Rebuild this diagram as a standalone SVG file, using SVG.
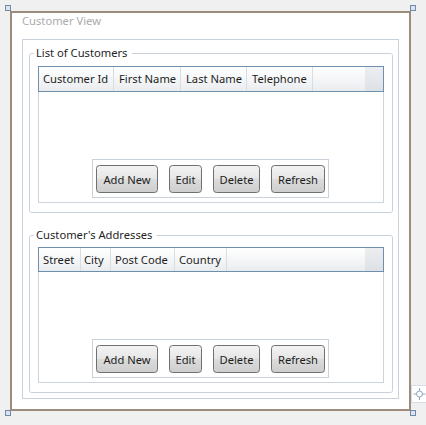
<svg xmlns="http://www.w3.org/2000/svg" width="426" height="425" viewBox="0 0 426 425">
<defs>
<linearGradient id="btn" x1="0" y1="0" x2="0" y2="1">
<stop offset="0" stop-color="#f3f3f3"/>
<stop offset="0.5" stop-color="#e6e6e6"/>
<stop offset="0.5" stop-color="#dcdcdc"/>
<stop offset="1" stop-color="#cdcdcd"/>
</linearGradient>
<linearGradient id="hdr" x1="0" y1="0" x2="0" y2="1">
<stop offset="0" stop-color="#ffffff"/>
<stop offset="0.45" stop-color="#f6f7f8"/>
<stop offset="1" stop-color="#e9ecef"/>
</linearGradient>
<linearGradient id="hdrfill" x1="0" y1="0" x2="0" y2="1">
<stop offset="0" stop-color="#eceef1"/>
<stop offset="1" stop-color="#dde1e5"/>
</linearGradient>
</defs>
<style>
text{font-family:"Noto Sans","Open Sans","DejaVu Sans",sans-serif;font-size:11.2px;fill:#1e1e1e}
.title{fill:#ababab}
.btn rect{fill:url(#btn);stroke:#707070;stroke-width:1}
.btn text{text-anchor:middle}
.pane{fill:none;stroke:#c9d2db;stroke-width:1}
.grid{fill:#ffffff;stroke:#ccd5de;stroke-width:1}
.sep{stroke:#d8dde2;stroke-width:1}
.handle{fill:#dbe4ee;stroke:#6e8aa8;stroke-width:1}
</style>
<rect x="0" y="0" width="426" height="425" fill="#f0f0f0"/>
<g id="window">
<rect x="11" y="12" width="399" height="398" fill="#ffffff" stroke="#9b8c7b" stroke-width="2"/>
<text class="title" x="22" y="25">Customer View</text>
<rect class="pane" x="22.5" y="39.5" width="376" height="359"/>
</g>
<g id="customersGroup">
<path class="pane" d="M33.5,53.5 H31.5 Q29.5,53.5 29.5,55.5 V210.5 Q29.5,212.5 31.5,212.5 H390.5 Q392.5,212.5 392.5,210.5 V55.5 Q392.5,53.5 390.5,53.5 H131.5"/>
<text x="36" y="57">List of Customers</text>
</g>
<g id="customersGrid">
<rect class="grid" x="38.5" y="66.5" width="345" height="136"/>
<rect x="365" y="67" width="18" height="24" fill="url(#hdrfill)"/>
<rect x="39" y="67" width="326" height="24" fill="url(#hdr)"/>
<rect x="38.5" y="66.5" width="345" height="25" fill="none" stroke="#6f8fae"/>
<line class="sep" x1="113.5" y1="67" x2="113.5" y2="91"/>
<line class="sep" x1="180.5" y1="67" x2="180.5" y2="91"/>
<line class="sep" x1="246.5" y1="67" x2="246.5" y2="91"/>
<line class="sep" x1="312.5" y1="67" x2="312.5" y2="91"/>
<text x="43" y="83">Customer Id</text>
<text x="119" y="83">First Name</text>
<text x="186" y="83">Last Name</text>
<text x="252" y="83">Telephone</text>
</g>
<g id="customersButtons">
<rect class="pane" x="92.5" y="159.5" width="236" height="38"/>
<g class="btn" id="btnAddNew1"><rect x="96.5" y="165.5" width="61" height="27" rx="3"/><text x="127" y="183.5">Add New</text></g>
<g class="btn" id="btnEdit1"><rect x="169.5" y="165.5" width="32" height="27" rx="3"/><text x="185.5" y="183.5">Edit</text></g>
<g class="btn" id="btnDelete1"><rect x="213.5" y="165.5" width="46" height="27" rx="3"/><text x="236.5" y="183.5">Delete</text></g>
<g class="btn" id="btnRefresh1"><rect x="271.5" y="165.5" width="53" height="27" rx="3"/><text x="298" y="183.5">Refresh</text></g>
</g>
<g id="addressesGroup">
<path class="pane" d="M33.5,235.5 H31.5 Q29.5,235.5 29.5,237.5 V390.5 Q29.5,392.5 31.5,392.5 H390.5 Q392.5,392.5 392.5,390.5 V237.5 Q392.5,235.5 390.5,235.5 H156.5"/>
<text x="36" y="239">Customer's Addresses</text>
</g>
<g id="addressesGrid">
<rect class="grid" x="38.5" y="247.5" width="345" height="135"/>
<rect x="365" y="248" width="18" height="23" fill="url(#hdrfill)"/>
<rect x="39" y="248" width="326" height="23" fill="url(#hdr)"/>
<rect x="38.5" y="247.5" width="345" height="24" fill="none" stroke="#6f8fae"/>
<line class="sep" x1="80.5" y1="248" x2="80.5" y2="271"/>
<line class="sep" x1="110.5" y1="248" x2="110.5" y2="271"/>
<line class="sep" x1="174.5" y1="248" x2="174.5" y2="271"/>
<line class="sep" x1="226.5" y1="248" x2="226.5" y2="271"/>
<text x="43" y="264">Street</text>
<text x="84" y="264">City</text>
<text x="115" y="264">Post Code</text>
<text x="179" y="264">Country</text>
</g>
<g id="addressesButtons">
<rect class="pane" x="92.5" y="339.5" width="236" height="38"/>
<g class="btn" id="btnAddNew2"><rect x="96.5" y="345.5" width="61" height="27" rx="3"/><text x="127" y="363.5">Add New</text></g>
<g class="btn" id="btnEdit2"><rect x="169.5" y="345.5" width="32" height="27" rx="3"/><text x="185.5" y="363.5">Edit</text></g>
<g class="btn" id="btnDelete2"><rect x="213.5" y="345.5" width="46" height="27" rx="3"/><text x="236.5" y="363.5">Delete</text></g>
<g class="btn" id="btnRefresh2"><rect x="271.5" y="345.5" width="53" height="27" rx="3"/><text x="298" y="363.5">Refresh</text></g>
</g>
<g id="handles">
<rect class="handle" x="5.5" y="5.5" width="5" height="5"/>
<rect class="handle" x="410.5" y="5.5" width="5" height="5"/>
<rect class="handle" x="5.5" y="410.5" width="5" height="5"/>
<rect class="handle" x="410.5" y="410.5" width="5" height="5"/>
<rect x="411.5" y="385.5" width="16" height="17" fill="#ffffff" stroke="#d6dde5"/>
<circle cx="419.5" cy="394" r="3" fill="none" stroke="#8fa6bf"/>
<line x1="419.5" y1="388" x2="419.5" y2="391" stroke="#8fa6bf"/>
<line x1="419.5" y1="397" x2="419.5" y2="400" stroke="#8fa6bf"/>
<line x1="413.5" y1="394" x2="416.5" y2="394" stroke="#8fa6bf"/>
<line x1="422.5" y1="394" x2="425.5" y2="394" stroke="#8fa6bf"/>
</g>
</svg>
